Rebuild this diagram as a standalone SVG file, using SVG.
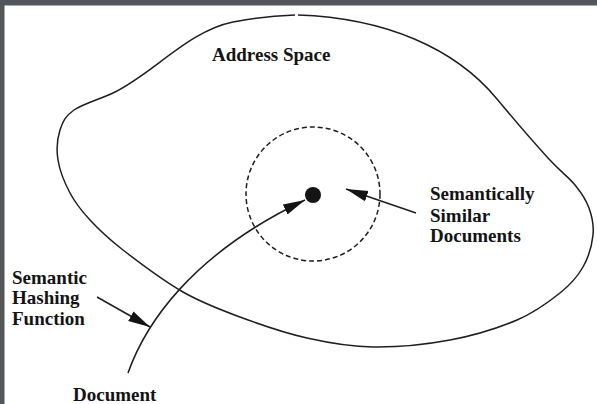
<svg xmlns="http://www.w3.org/2000/svg" width="597" height="404" viewBox="0 0 597 404">
  <style>
    .label { font-family: "Liberation Serif", "Times New Roman", serif; font-weight: bold; font-size: 19px; fill: #141414; }
    .outline { fill: none; stroke: #1e1e1e; stroke-width: 1.5; }
    .conn { fill: none; stroke: #1e1e1e; stroke-width: 1.5; }
    .dashed { fill: none; stroke: #1e1e1e; stroke-width: 1.5; stroke-dasharray: 5 3; }
  </style>
  <defs>
    <marker id="arrow" markerUnits="userSpaceOnUse" markerWidth="24" markerHeight="12" refX="22" refY="5.5" orient="auto">
      <path d="M0,0 L22,5.5 L0,11 Z" fill="#141414"/>
    </marker>
  </defs>

  <!-- page background and frame -->
  <rect x="0" y="0" width="597" height="404" fill="#ffffff"/>
  <rect x="0" y="0" width="597" height="5.5" fill="#54575a"/>
  <rect x="0" y="0" width="4.5" height="404" fill="#54575a"/>

  <!-- address space region -->
  <g id="address-space">
    <path class="outline" d="M298,15 C385,18 455,48 497,99 C512,117 535,143.7 548,158 C561,172.3 568.2,176.7 575,185 C581.8,193.3 586,199.7 589,208 C592,216.3 594,225.2 593,235 C592,244.8 588.5,257.3 583,267 C577.5,276.7 571,284.2 560,293 C549,301.8 535.3,312.2 517,320 C498.7,327.8 474,335.5 450,340 C426,344.5 396.8,347.3 373,347 C349.2,346.7 329.2,343 307,338 C284.8,333 260.7,324.7 240,317 C219.3,309.3 202.5,303.2 183,292 C163.5,280.8 138.5,262 123,250 C107.5,238 98.8,229.5 90,220 C81.2,210.5 75.3,203 70,193 C64.7,183 59.7,170.5 58,160 C56.3,149.5 57.3,138.3 60,130 C62.7,121.7 65.2,116.2 74,110 C82.8,103.8 101,98.7 113,93 C153,74 188,31 233,22 C253,18 280,15.5 295,15"/>
    <text class="label" x="212" y="61">Address Space</text>
  </g>

  <!-- neighbourhood of similar documents -->
  <g id="similar-region">
    <circle class="dashed" cx="313" cy="194" r="67"/>
    <circle cx="313" cy="195" r="8" fill="#141414"/>
  </g>

  <g id="similar-label">
    <text class="label" x="430" y="200">Semantically</text>
    <text class="label" x="430" y="221.5">Similar</text>
    <text class="label" x="430" y="242">Documents</text>
  </g>

  <g id="hashing-label">
    <text class="label" x="12" y="283.5">Semantic</text>
    <text class="label" x="12" y="304">Hashing</text>
    <text class="label" x="12" y="324.5">Function</text>
  </g>

  <g id="document-label">
    <text class="label" x="73" y="401">Document</text>
  </g>

  <!-- connectors -->
  <g id="connectors">
    <path class="conn" d="M128,373 C145,325 190,255 305,200" marker-end="url(#arrow)"/>
    <line class="conn" x1="416" y1="213" x2="346" y2="189" marker-end="url(#arrow)"/>
    <line class="conn" x1="97" y1="297" x2="150" y2="327" marker-end="url(#arrow)"/>
  </g>
</svg>
